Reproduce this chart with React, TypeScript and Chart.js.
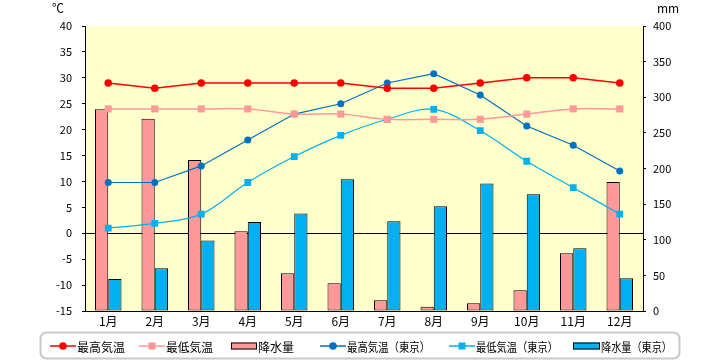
import React, { useEffect, useRef } from "react";
import { Chart, registerables } from "chart.js";

Chart.register(...registerables);

const months = ["1月", "2月", "3月", "4月", "5月", "6月", "7月", "8月", "9月", "10月", "11月", "12月"];
const maxTemp = [29, 28, 29, 29, 29, 29, 28, 28, 29, 30, 30, 29];
const minTemp = [24, 24, 24, 24, 23, 23, 22, 22, 22, 23, 24, 24];
const rainfall = [283, 270, 212, 112, 53, 39, 15, 6, 11, 29, 81, 181];
const tokyoMax = [9.8, 9.8, 13.0, 18.0, 23.0, 25.0, 29.0, 30.8, 26.7, 20.7, 17.0, 12.0];
const tokyoMin = [1.0, 1.9, 3.7, 9.8, 14.8, 18.9, 22.0, 23.9, 19.8, 13.9, 8.8, 3.7];
const tokyoRain = [45, 60, 99, 125, 137, 185, 126, 147, 179, 164, 88, 46];

const seriesNames = ["最高気温", "最低気温", "降水量", "最高気温（東京）", "最低気温（東京）", "降水量（東京）"];
const tempUnit = "℃";
const rainUnit = "mm";

const FONT = "'Noto Sans CJK JP', 'Noto Sans', sans-serif";
const RED = "#FF0000";
const PINK = "#FF9999";
const BLUE = "#0070C0";
const SKY = "#00B0F0";

const legendItems = [
  { ds: 0, kind: "line", x0: 50, x1: 76, tx: 77, tw: 48 },
  { ds: 1, kind: "line", x0: 139, x1: 165, tx: 166, tw: 47 },
  { ds: 2, kind: "bar", x0: 231, x1: 257, tx: 258, tw: 37 },
  { ds: 3, kind: "line", x0: 320, x1: 346, tx: 347, tw: 83 },
  { ds: 4, kind: "line", x0: 449, x1: 475, tx: 476, tw: 82 },
  { ds: 5, kind: "bar", x0: 573, x1: 600, tx: 601, tw: 71 },
];

const decorPlugin = {
  id: "decor",
  beforeDraw(chart: any) {
    const { ctx, chartArea } = chart;
    ctx.save();
    ctx.fillStyle = "#FFFFCC";
    ctx.fillRect(chartArea.left, chartArea.top, chartArea.right - chartArea.left, chartArea.bottom - chartArea.top);
    ctx.restore();
  },
  afterDraw(chart: any) {
    const ctx = chart.ctx;
    ctx.save();
    ctx.fillStyle = "#000";
    ctx.font = `12px ${FONT}`;
    ctx.textAlign = "center";
    ctx.textBaseline = "middle";
    ctx.fillText(tempUnit, 58, 8);
    ctx.fillText(rainUnit, 668, 8);

    // legend box
    const bx = 40.5, by = 332.5, bw = 639, bh = 26, r = 6;
    ctx.beginPath();
    ctx.moveTo(bx + r, by);
    ctx.lineTo(bx + bw - r, by);
    ctx.arcTo(bx + bw, by, bx + bw, by + r, r);
    ctx.lineTo(bx + bw, by + bh - r);
    ctx.arcTo(bx + bw, by + bh, bx + bw - r, by + bh, r);
    ctx.lineTo(bx + r, by + bh);
    ctx.arcTo(bx, by + bh, bx, by + bh - r, r);
    ctx.lineTo(bx, by + r);
    ctx.arcTo(bx, by, bx + r, by, r);
    ctx.closePath();
    ctx.strokeStyle = "#C8C8C8";
    ctx.lineWidth = 2;
    ctx.stroke();

    const cy = 346;
    legendItems.forEach((it) => {
      const ds: any = chart.data.datasets[it.ds];
      if (it.kind === "line") {
        ctx.strokeStyle = ds.borderColor;
        ctx.lineWidth = 1.5;
        ctx.beginPath();
        ctx.moveTo(it.x0, cy);
        ctx.lineTo(it.x1, cy);
        ctx.stroke();
        const mx = (it.x0 + it.x1) / 2;
        ctx.fillStyle = ds.borderColor;
        if (ds.pointStyle === "rect") {
          ctx.fillRect(mx - 3.5, cy - 3.5, 7, 7);
        } else {
          ctx.beginPath();
          ctx.arc(mx, cy, 3.8, 0, Math.PI * 2);
          ctx.fill();
        }
      } else {
        ctx.fillStyle = ds.backgroundColor;
        ctx.fillRect(it.x0, cy - 3.5, it.x1 - it.x0, 7);
        ctx.strokeStyle = "#000";
        ctx.lineWidth = 1;
        ctx.strokeRect(it.x0 + 0.5, cy - 3.5 + 0.5, it.x1 - it.x0 - 1, 6);
      }
      ctx.fillStyle = "#000";
      ctx.font = `12px ${FONT}`;
      ctx.textAlign = "left";
      ctx.textBaseline = "middle";
      ctx.fillText(ds.label, it.tx, cy + 1, it.tw);
    });
    ctx.restore();
  },
};

export default function App() {
  const ref = useRef<HTMLCanvasElement | null>(null);
  useEffect(() => {
    if (!ref.current) return;
    const tickFont = { family: FONT, size: 11 };
    const chart = new Chart(ref.current, {
      type: "bar",
      data: {
        labels: months,
        datasets: [
          {
            type: "line", label: seriesNames[0], data: maxTemp, yAxisID: "y", order: 0,
            borderColor: RED, backgroundColor: RED, borderWidth: 1.5, tension: 0,
            pointStyle: "circle", pointRadius: 3.8, pointBackgroundColor: RED, pointBorderColor: RED, pointBorderWidth: 0,
          },
          {
            type: "line", label: seriesNames[1], data: minTemp, yAxisID: "y", order: 0,
            borderColor: PINK, backgroundColor: PINK, borderWidth: 1.5, tension: 0.35,
            pointStyle: "rect", pointRadius: 5, pointBackgroundColor: PINK, pointBorderColor: PINK, pointBorderWidth: 0,
          },
          {
            type: "bar", label: seriesNames[2], data: rainfall, yAxisID: "y1", order: 1,
            backgroundColor: PINK, borderColor: "#000", borderWidth: 1, borderSkipped: false,
            barPercentage: 1, categoryPercentage: 0.57,
          },
          {
            type: "line", label: seriesNames[3], data: tokyoMax, yAxisID: "y", order: 0,
            borderColor: BLUE, backgroundColor: BLUE, borderWidth: 1.2, tension: 0,
            pointStyle: "circle", pointRadius: 3.5, pointBackgroundColor: BLUE, pointBorderColor: BLUE, pointBorderWidth: 0,
          },
          {
            type: "line", label: seriesNames[4], data: tokyoMin, yAxisID: "y", order: 0,
            borderColor: SKY, backgroundColor: SKY, borderWidth: 1.2, tension: 0.35,
            pointStyle: "rect", pointRadius: 4.8, pointBackgroundColor: SKY, pointBorderColor: SKY, pointBorderWidth: 0,
          },
          {
            type: "bar", label: seriesNames[5], data: tokyoRain, yAxisID: "y1", order: 1,
            backgroundColor: SKY, borderColor: "#000", borderWidth: 1, borderSkipped: false,
            barPercentage: 1, categoryPercentage: 0.57,
          },
        ] as any,
      },
      options: {
        responsive: false,
        animation: false,
        layout: { padding: { top: 26, bottom: 29, left: 0, right: 0 } },
        plugins: { legend: { display: false }, tooltip: { enabled: false } },
        scales: {
          x: {
            grid: { display: false, drawTicks: false, tickLength: 0 },
            border: { display: true, color: "#000", width: 1 },
            ticks: { color: "#000", font: { family: FONT, size: 12 }, padding: 3, maxRotation: 0 },
            afterFit: (s: any) => { s.height = 20; },
          },
          y: {
            position: "left", min: -15, max: 40,
            ticks: { stepSize: 5, color: "#000", font: tickFont, padding: 10 },
            grid: {
              drawOnChartArea: true,
              color: (c: any) => (c.tick && c.tick.value === 0 ? "#000" : "rgba(0,0,0,0)"),
              tickColor: "#000", tickLength: 3, lineWidth: 1,
            },
            border: { display: true, color: "#000", width: 1 },
            afterFit: (s: any) => { s.width = 85; },
          },
          y1: {
            position: "right", min: 0, max: 400,
            ticks: { stepSize: 50, color: "#000", font: tickFont, padding: 7 },
            grid: { drawOnChartArea: false, tickColor: "#000", tickLength: 3 },
            border: { display: true, color: "#000", width: 1 },
            afterFit: (s: any) => { s.width = 77; },
          },
        },
      } as any,
      plugins: [decorPlugin],
    });
    return () => chart.destroy();
  }, []);
  return (
    <div style={{ position: "absolute", left: 0, top: 0, width: 720, height: 360, background: "#fff" }}>
      <canvas ref={ref} width={720} height={360} style={{ display: "block" }} />
    </div>
  );
}
